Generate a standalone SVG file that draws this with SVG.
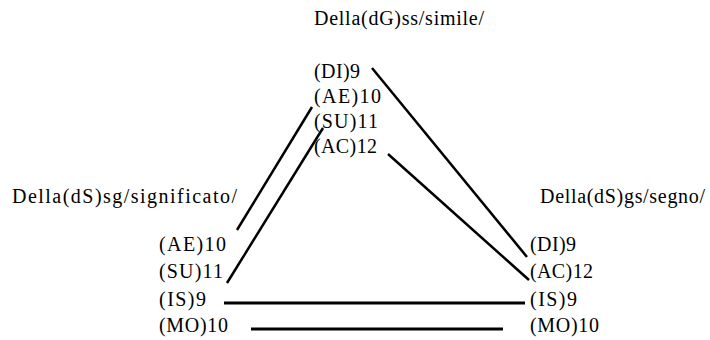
<svg xmlns="http://www.w3.org/2000/svg" width="710" height="340" viewBox="0 0 710 340">
<style>
text{font-family:"Liberation Serif","Times New Roman",serif;font-size:20px;fill:#000}
.c line{stroke:#000;stroke-width:2.5;stroke-linecap:butt}
.c line.h{stroke-width:3}
</style>
<rect width="710" height="340" fill="#fff"/>
<g id="node-simile">
<text x="314" y="25" textLength="170" lengthAdjust="spacing">Della(dG)ss/simile/</text>
<text x="314" y="78" textLength="46" lengthAdjust="spacing">(DI)9</text>
<text x="314" y="103" textLength="67" lengthAdjust="spacing">(AE)10</text>
<text x="314" y="128" textLength="64" lengthAdjust="spacing">(SU)11</text>
<text x="314" y="153" textLength="63" lengthAdjust="spacing">(AC)12</text>
</g>
<g id="node-significato">
<text x="12" y="203" textLength="225" lengthAdjust="spacing">Della(dS)sg/significato/</text>
<text x="159" y="251" textLength="67" lengthAdjust="spacing">(AE)10</text>
<text x="159" y="278" textLength="64" lengthAdjust="spacing">(SU)11</text>
<text x="159" y="306" textLength="47" lengthAdjust="spacing">(IS)9</text>
<text x="159" y="332" textLength="69" lengthAdjust="spacing">(MO)10</text>
</g>
<g id="node-segno">
<text x="540" y="203" textLength="165" lengthAdjust="spacing">Della(dS)gs/segno/</text>
<text x="530" y="251" textLength="46" lengthAdjust="spacing">(DI)9</text>
<text x="530" y="278" textLength="63" lengthAdjust="spacing">(AC)12</text>
<text x="530" y="306" textLength="47" lengthAdjust="spacing">(IS)9</text>
<text x="530" y="332" textLength="69" lengthAdjust="spacing">(MO)10</text>
</g>
<g id="connectors" class="c">
<line x1="372" y1="68" x2="527" y2="257"/>
<line x1="312" y1="107" x2="237" y2="230"/>
<line x1="323" y1="128" x2="227" y2="283"/>
<line x1="388" y1="154" x2="529" y2="280"/>
<line class="h" x1="224" y1="303" x2="525" y2="303"/>
<line class="h" x1="251" y1="329" x2="503" y2="329"/>
</g>
</svg>
